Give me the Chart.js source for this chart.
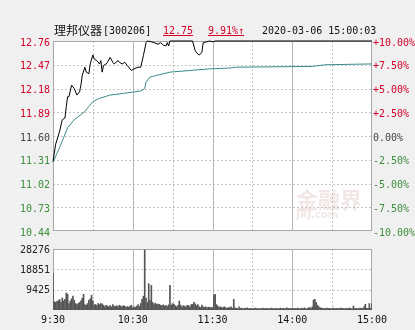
<!DOCTYPE html>
<html lang="zh">
<head>
    <meta charset="UTF-8">
    <title>理邦仪器 分时图</title>
    <script src="https://cdn.jsdelivr.net/npm/chart.js"></script>
    <style>
        body { margin: 0; width: 415px; height: 330px; background: #f0f0f0; position: relative; overflow: hidden; }
        .box { position: absolute; left: 0; width: 415px; }
        .t { position: absolute; top: 25px; line-height: 12px; font-family: "DejaVu Sans Mono", monospace; font-size: 10px; color: #111; white-space: nowrap; z-index: 3; }
        .cjk { font-family: "Noto Sans CJK SC", sans-serif; font-size: 12px; top: 24px; }
        .red { color: #d4002a; text-decoration: underline; }
        .wm { position: absolute; left: 296px; top: 186px; z-index: 3; color: rgba(210, 170, 170, 0.28); font-family: "Noto Sans CJK SC", sans-serif; font-weight: bold; font-size: 22px; line-height: 24px; }
        .wm small { display: block; font-family: "DejaVu Sans", sans-serif; font-size: 10px; line-height: 10px; }
    </style>
</head>
<body>
    <div class="box" style="top:0;height:240px"><canvas id="priceChart" width="415" height="240"></canvas></div>
    <div class="box" style="top:240px;height:90px"><canvas id="volChart" width="415" height="90"></canvas></div>

    <span class="t cjk" style="left:54px">理邦仪器</span>
    <span class="t" style="left:103px">[300206]</span>
    <span class="t red" style="left:163px">12.75</span>
    <span class="t red" style="left:208px">9.91%↑</span>
    <span class="t" style="left:262px">2020-03-06 15:00:03</span>
    <div class="wm">金融界<small>JRJ.com</small></div>

    <script>
        // minutes after 9:30 (trading minutes, lunch break removed)
        const priceMinutes = [0, 2, 5, 7, 9, 10, 11, 12, 14, 16, 18, 20, 21, 22, 24, 25, 27, 28, 30, 31,
            33, 35, 36, 37, 38, 40, 41, 43, 45, 46, 49, 50, 52, 54, 56, 59, 61, 64, 66, 68,
            70, 71, 74, 76, 79, 81, 83, 85, 86, 87, 88, 105, 107, 109, 110, 112, 113, 118, 120, 122, 240];
        const priceValues = [11.29, 11.50, 11.66, 11.80, 11.82, 11.96, 12.08, 12.08, 12.22, 12.18,
            12.10, 12.14, 12.22, 12.34, 12.44, 12.38, 12.36, 12.48, 12.59, 12.54,
            12.52, 12.48, 12.52, 12.38, 12.46, 12.48, 12.50, 12.56, 12.50, 12.48,
            12.52, 12.50, 12.48, 12.50, 12.46, 12.40, 12.42, 12.44, 12.44, 12.58,
            12.74, 12.76, 12.75, 12.74, 12.72, 12.74, 12.71, 12.70, 12.74, 12.70,
            12.76, 12.76, 12.64, 12.60, 12.59, 12.62, 12.74, 12.76, 12.75, 12.76, 12.76];

        const avgMinutes = [0, 5, 9, 11, 16, 21, 24, 27, 30, 35, 43, 53, 66, 69, 70, 73, 78, 88, 103, 118,
            133, 138, 195, 205, 240];
        const avgValues = [11.28, 11.46, 11.62, 11.70, 11.80, 11.86, 11.90, 11.96, 12.02, 12.06,
            12.10, 12.12, 12.15, 12.18, 12.26, 12.32, 12.34, 12.38, 12.40, 12.42,
            12.43, 12.44, 12.45, 12.47, 12.48];

        // one bar per minute, 9:30 .. 15:00
        const volumes = [
            17000, 3800, 3600, 4000, 4300, 4900, 3500, 5600, 4200, 4900,
            7900, 7300, 3000, 4200, 5200, 6400, 4500, 3000, 2500, 3000,
            3500, 4200, 5500, 7300, 2500, 2200, 3000, 4500, 5200, 6900,
            4200, 2300, 2600, 2000, 3000, 2500, 3000, 2800, 2200, 1500,
            2200, 1800, 1500, 2000, 1500, 2500, 1800, 1600, 2000, 1500,
            2200, 1800, 1600, 2000, 1800, 1200, 1600, 1300, 1800, 2200,
            1000, 1500, 1200, 1800, 2500, 1600, 3000, 5000, 6400, 27800,
            5500, 3500, 12200, 4500, 11400, 3500, 2800, 3200, 2500, 2800,
            2600, 2200, 2000, 2400, 1800, 2200, 1600, 2400, 11400, 2300,
            3000, 2600, 2000, 1500, 2200, 4100, 2300, 1500, 2000, 1800,
            1500, 2200, 2000, 1500, 2500, 2600, 3500, 2800, 2000, 2500,
            1500, 1200, 2300, 1500, 1200, 1500, 1000, 1300, 1200, 1000,
            1200, 6900, 7300, 2500, 1800, 1200, 1500, 1000, 1200, 1500,
            1000, 800, 1200, 1000, 1500, 800, 4900, 1000, 800, 600,
            1500, 700, 900, 600, 800, 700, 1000, 600, 700, 800,
            600, 700, 900, 600, 800, 600, 700, 600, 900, 700,
            600, 800, 700, 600, 900, 700, 600, 800, 700, 600,
            700, 900, 600, 800, 700, 600, 1000, 700, 600, 800,
            600, 700, 800, 600, 900, 700, 600, 800, 700, 1000,
            700, 600, 900, 1200, 800, 1500, 4600, 4900, 3500, 2200,
            1500, 1000, 900, 700, 800, 600, 900, 700, 800, 600,
            700, 900, 600, 800, 700, 600, 900, 700, 800, 700,
            600, 800, 700, 900, 700, 600, 1800, 700, 800, 600,
            700, 900, 800, 700, 1500, 2700, 800, 700, 3000, 800,
            3000
        ];

        const prevClose = 11.60;
        const priceTicks = [10.44, 10.73, 11.02, 11.31, 11.60, 11.89, 12.18, 12.47, 12.76];
        const pctLabels = ['-10.00%', '-7.50%', '-5.00%', '-2.50%', '0.00%', '+2.50%', '+5.00%', '+7.50%', '+10.00%'];
        const volumeTicks = [9425, 18851, 28276];
        const timeLabels = ['9:30', '10:30', '11:30', '14:00', '15:00'];
        const timeLabelMinutes = [0, 60, 120, 180, 240];
        const gridMinutes = [30, 60, 90, 120, 150, 180, 210];
        const solidMinutes = [60, 120, 180];

        const RED = '#d4002a', GREEN = '#3d8f3d', GREY = '#444';
        const tickFont = { family: 'DejaVu Sans Mono', size: 10 };

        // white panel, dashed grid and frame
        const panelGrid = {
            id: 'panelGrid',
            beforeDatasetsDraw(chart, args, opts) {
                const { ctx, chartArea: a, scales } = chart;
                ctx.save();
                ctx.lineWidth = 1;
                ctx.strokeStyle = '#c4c4c4';
                ctx.setLineDash([2, 2]);
                opts.hLines.forEach(v => {
                    const py = Math.round(scales.y.getPixelForValue(v)) + 0.5;
                    ctx.beginPath(); ctx.moveTo(a.left, py); ctx.lineTo(a.right, py); ctx.stroke();
                });
                gridMinutes.forEach(m => {
                    const px = Math.round(scales.x.getPixelForValue(m)) + 0.5;
                    const solid = solidMinutes.includes(m);
                    ctx.setLineDash(solid ? [] : [2, 2]);
                    ctx.strokeStyle = solid ? '#b4b4b4' : '#c4c4c4';
                    ctx.beginPath(); ctx.moveTo(px, a.top); ctx.lineTo(px, a.bottom); ctx.stroke();
                });
                ctx.setLineDash([]);
                ctx.strokeStyle = '#a8a8a8';
                ctx.strokeRect(a.left + 0.5, a.top + 0.5, a.width - 1, a.height - 1);
                ctx.restore();
            },
            beforeDraw(chart) {
                const { ctx, chartArea: a } = chart;
                ctx.save();
                ctx.fillStyle = '#ffffff';
                ctx.fillRect(a.left, a.top, a.width, a.height);
                ctx.restore();
            }
        };

        function priceColor(v) {
            if (Math.abs(v - prevClose) < 0.001) return GREY;
            return v > prevClose ? RED : GREEN;
        }

        new Chart(document.getElementById('priceChart'), {
            type: 'line',
            data: {
                datasets: [{
                    data: priceMinutes.map((m, i) => ({ x: m, y: priceValues[i] })),
                    borderColor: '#000000',
                    borderWidth: 1,
                    pointRadius: 0,
                    clip: 2,
                    order: 1
                }, {
                    data: avgMinutes.map((m, i) => ({ x: m, y: avgValues[i] })),
                    borderColor: '#3a8c8a',
                    borderWidth: 1,
                    pointRadius: 0,
                    clip: 2,
                    order: 2
                }]
            },
            options: {
                responsive: false,
                animation: false,
                layout: { padding: { top: 41, bottom: 6 } },
                plugins: { legend: { display: false }, tooltip: { enabled: false }, panelGrid: { hLines: priceTicks.slice(1, -1) } },
                scales: {
                    x: { type: 'linear', min: 0, max: 240, display: false },
                    y: {
                        position: 'left', min: 10.44, max: 12.76,
                        afterBuildTicks: s => { s.ticks = priceTicks.map(v => ({ value: v })); },
                        afterFit: s => { s.width = 53; },
                        grid: { display: false, drawTicks: false },
                        border: { display: false },
                        ticks: {
                            padding: 3, labelOffset: 2, font: tickFont,
                            color: c => priceColor(c.tick.value),
                            callback: v => v.toFixed(2)
                        }
                    },
                    y2: {
                        position: 'right', min: 10.44, max: 12.76,
                        afterBuildTicks: s => { s.ticks = priceTicks.map(v => ({ value: v })); },
                        afterFit: s => { s.width = 43; },
                        grid: { display: false, drawTicks: false },
                        border: { display: false },
                        ticks: {
                            padding: 1, labelOffset: 2, font: tickFont,
                            color: c => priceColor(c.tick.value),
                            callback: (v, i) => pctLabels[i]
                        }
                    }
                }
            },
            plugins: [panelGrid]
        });

        new Chart(document.getElementById('volChart'), {
            type: 'bar',
            data: {
                labels: volumes.map((v, i) => i),
                datasets: [{
                    data: volumes,
                    backgroundColor: '#555555',
                    barThickness: 1
                }]
            },
            options: {
                responsive: false,
                animation: false,
                layout: { padding: { top: 7, right: 43 } },
                plugins: { legend: { display: false }, tooltip: { enabled: false }, panelGrid: { hLines: volumeTicks.slice(0, -1) } },
                scales: {
                    x: {
                        offset: false,
                        afterFit: s => { s.height = 20; },
                        grid: { display: false, drawTicks: false },
                        border: { display: false },
                        ticks: {
                            autoSkip: false, maxRotation: 0, padding: 4, font: tickFont, color: '#111',
                            callback: (v, i) => {
                                const k = timeLabelMinutes.indexOf(i);
                                return k >= 0 ? timeLabels[k] : null;
                            }
                        }
                    },
                    y: {
                        min: 0, max: 28276,
                        afterBuildTicks: s => { s.ticks = volumeTicks.map(v => ({ value: v })); },
                        afterFit: s => { s.width = 53; },
                        grid: { display: false, drawTicks: false },
                        border: { display: false },
                        ticks: { padding: 3, labelOffset: 1, font: tickFont, color: '#222', callback: v => String(v) }
                    }
                }
            },
            plugins: [panelGrid]
        });
    </script>
</body>
</html>
